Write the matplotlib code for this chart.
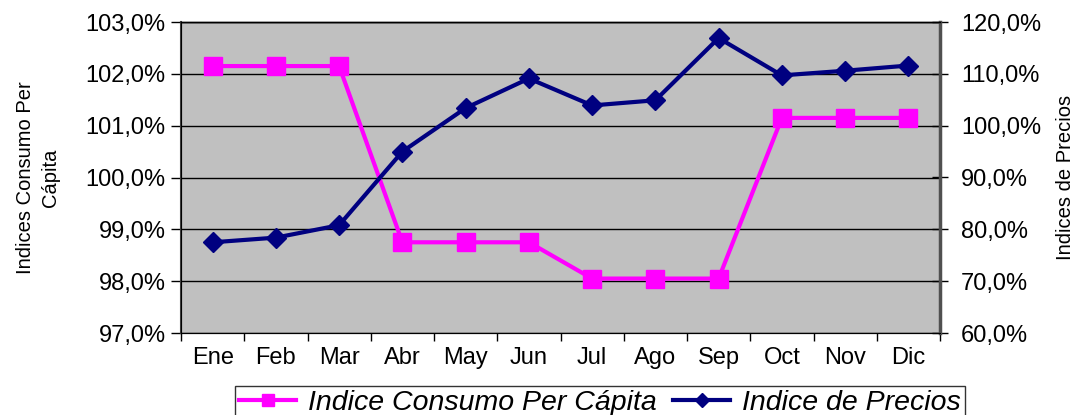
import matplotlib
matplotlib.use("Agg")
import matplotlib.pyplot as plt
from matplotlib.ticker import FuncFormatter, FixedLocator

months = ["Ene", "Feb", "Mar", "Abr", "May", "Jun", "Jul", "Ago", "Sep", "Oct", "Nov", "Dic"]
consumo = [102.15, 102.15, 102.15, 98.75, 98.75, 98.75, 98.05, 98.05, 98.05, 101.15, 101.15, 101.15]
precios = [77.5, 78.4, 80.8, 95.0, 103.4, 109.1, 103.9, 104.9, 116.9, 109.7, 110.6, 111.6]
left_ticks = [97, 98, 99, 100, 101, 102, 103]
right_ticks = [60, 70, 80, 90, 100, 110, 120]

plt.rcParams['font.family'] = ['Liberation Sans', 'DejaVu Sans']

fig = plt.figure(figsize=(10.73, 4.15), dpi=100)
ax = fig.add_axes([181/1073, 1-333/415, (940-181)/1073, (333-22)/415])
ax2 = ax.twinx()

ax.set_facecolor('#C0C0C0')
x = list(range(len(months)))

fmt = FuncFormatter(lambda v, p: f"{v:.1f}".replace('.', ',') + "%")

l1, = ax.plot(x, consumo, color='#FF00FF', lw=3, marker='s', markersize=13,
              markeredgecolor='#FF00FF', label='Indice Consumo Per Cápita', zorder=3)
l2, = ax2.plot(x, precios, color='#000080', lw=3, marker='D', markersize=10,
               markeredgecolor='#000080', label='Indice de Precios', zorder=3)

ax.set_xlim(-0.5, len(months) - 0.5)
ax.set_ylim(left_ticks[0], left_ticks[-1])
ax2.set_ylim(right_ticks[0], right_ticks[-1])
ax.set_yticks(left_ticks)
ax2.set_yticks(right_ticks)
ax.yaxis.set_major_formatter(fmt)
ax2.yaxis.set_major_formatter(fmt)

ax.set_xticks(x)
ax.set_xticklabels(months)
ax.xaxis.set_minor_locator(FixedLocator([i - 0.5 for i in range(len(months) + 1)]))
ax.tick_params(axis='x', which='major', length=0, pad=10, labelsize=17)
ax.tick_params(axis='x', which='minor', length=6, width=1, direction='out')
ax.tick_params(axis='y', which='major', length=7, width=1, direction='out', labelsize=17, pad=4)
ax2.tick_params(axis='y', which='major', length=12, width=1, direction='inout', labelsize=17, pad=9)

ax.grid(axis='y', color='black', lw=1)
ax.set_axisbelow(True)

ax.spines['left'].set_color('#404040')
ax.spines['left'].set_linewidth(1.5)
ax2.spines['right'].set_color('#505050')
ax2.spines['right'].set_linewidth(2.5)
ax.spines['top'].set_color('black')
ax.spines['bottom'].set_color('black')
for a in (ax, ax2):
    a.spines['top'].set_linewidth(1)

ax.set_ylabel("Indices Consumo Per\nCápita", fontsize=14.5, linespacing=1.4)
ax.yaxis.set_label_coords(-0.159, 0.5)
ax2.set_ylabel("Indices de Precios", fontsize=14.5)
ax2.yaxis.set_label_coords(1.153, 0.5)

leg = fig.legend(handles=[l1, l2], loc='upper left', bbox_to_anchor=(235/1073, 1-386/415),
                 ncol=2, frameon=True, fancybox=False, edgecolor='black',
                 prop={'style': 'italic', 'size': 20.5}, handlelength=2.0,
                 markerscale=0.7, columnspacing=0.6, handletextpad=0.4,
                 borderpad=0.15, borderaxespad=0)
leg.get_frame().set_linewidth(1)

fig.savefig("out.png", dpi=100)
